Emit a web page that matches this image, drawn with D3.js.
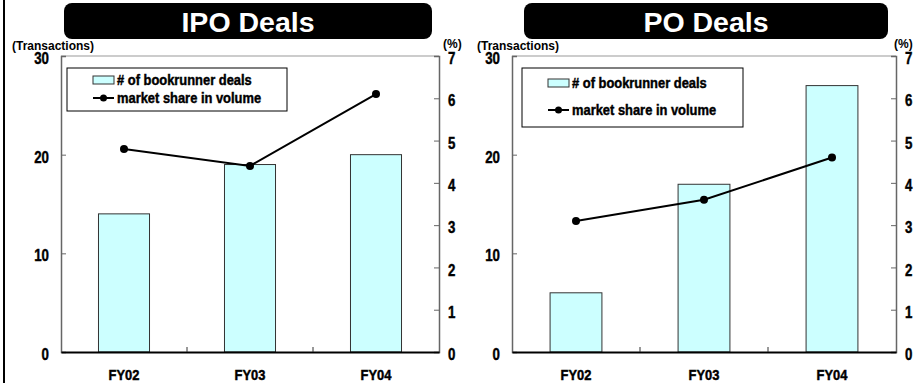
<!DOCTYPE html>
<html>
<head>
<meta charset="utf-8">
<script src="https://cdn.jsdelivr.net/npm/d3@7/dist/d3.min.js"></script>
<style>
  html, body { margin: 0; padding: 0; background: #fff; }
  svg { display: block; }
  .narrow { font-family: 'Liberation Sans', Arial, sans-serif; font-weight: bold; stroke: #000; stroke-width: 0.45px; }
  .sans { font-family: 'Liberation Sans', Arial, sans-serif; font-weight: bold; }
</style>
</head>
<body>
<svg id="chart" width="921" height="383"></svg>
<script>
// Fiscal years shown on the x axis
const categories = ["FY02", "FY03", "FY04"];

// IPO deals: number of bookrunner transactions and market share (%)
const ipoDeals = [14, 19, 20];
const ipoShare = [4.8, 4.4, 6.1];

// PO deals: number of bookrunner transactions and market share (%)
const poDeals = [6, 17, 27];
const poShare = [3.1, 3.6, 4.6];

// Axis ticks
const countTicks = [0, 10, 20, 30];
const shareTicks = [0, 1, 2, 3, 4, 5, 6, 7];

const legendLabels = ["# of bookrunner deals", "market share in volume"];

const svg = d3.select("#chart");

// Squeeze bold glyphs horizontally to get a narrow face
function condense(sel, factor) {
  sel.each(function () {
    const w = this.getComputedTextLength();
    this.setAttribute("textLength", w * factor);
    this.setAttribute("lengthAdjust", "spacingAndGlyphs");
  });
}

// Left frame rule
svg.append("line")
  .attr("x1", 4).attr("x2", 4).attr("y1", 0).attr("y2", 383)
  .attr("stroke", "#000").attr("stroke-width", 2);

const panels = [
  { title: "IPO Deals", deals: ipoDeals, share: ipoShare,
    x0: 61, x1: 439, box: [64, 432], unitX: 12, pctX: 443,
    legend: { x: 67, y: 68, w: 220, h: 43, row1: 80, row2: 98 } },
  { title: "PO Deals", deals: poDeals, share: poShare,
    x0: 512, x1: 896, box: [524, 888], unitX: 477, pctX: 894,
    legend: { x: 522, y: 68, w: 221, h: 59, row1: 83, row2: 110 } }
];

const yTop = 56, yBottom = 352;

panels.forEach(p => {
  const g = svg.append("g");

  // Title banner
  g.append("rect")
    .attr("x", p.box[0]).attr("y", 3)
    .attr("width", p.box[1] - p.box[0]).attr("height", 36)
    .attr("rx", 8).attr("fill", "#000");
  g.append("text")
    .attr("class", "sans")
    .attr("x", (p.box[0] + p.box[1]) / 2).attr("y", 31.5)
    .attr("text-anchor", "middle")
    .attr("font-size", 28.5).attr("fill", "#fff")
    .text(p.title);

  const x = d3.scaleBand().domain(categories).range([p.x0, p.x1])
    .paddingInner(0.595).paddingOuter(0.2975);
  const xb = d3.scaleBand().domain(categories).range([p.x0, p.x1]).padding(0);
  const yCount = d3.scaleLinear().domain([0, 30]).range([yBottom, yTop]);
  const yShare = d3.scaleLinear().domain([0, 7]).range([yBottom, yTop]);

  // Plot area top border
  g.append("line")
    .attr("x1", p.x0).attr("x2", p.x1).attr("y1", yTop).attr("y2", yTop)
    .attr("stroke", "#999").attr("stroke-width", 1);

  // Bars
  g.selectAll("rect.bar").data(p.deals).join("rect")
    .attr("class", "bar")
    .attr("x", (d, i) => x(categories[i]))
    .attr("y", d => yCount(d))
    .attr("width", x.bandwidth())
    .attr("height", d => yBottom - yCount(d))
    .attr("fill", "#ccffff").attr("stroke", "#333").attr("stroke-width", 1);

  // Left axis
  const la = g.append("g").attr("transform", `translate(${p.x0},0)`)
    .call(d3.axisLeft(yCount).tickValues(countTicks).tickSize(-5).tickPadding(12)
      .tickFormat(d3.format("d")));
  la.select(".domain").attr("stroke", "#666").attr("stroke-width", 1.5);
  la.selectAll(".tick line").attr("stroke", "#666");
  la.selectAll("text").attr("class", "narrow").attr("font-size", 17).attr("fill", "#000").attr("dy", "0.45em")
    .call(condense, 0.78);

  // Right axis
  const ra = g.append("g").attr("transform", `translate(${p.x1},0)`)
    .call(d3.axisRight(yShare).tickValues(shareTicks).tickSize(-5).tickPadding(9)
      .tickFormat(d3.format("d")));
  ra.select(".domain").attr("stroke", "#666").attr("stroke-width", 1.5);
  ra.selectAll(".tick line").attr("stroke", "#666");
  ra.selectAll("text").attr("class", "narrow").attr("font-size", 17).attr("fill", "#000").attr("dy", "0.45em")
    .call(condense, 0.78);

  // Bottom axis with category labels
  const ba = g.append("g").attr("transform", `translate(0,${yBottom})`)
    .call(d3.axisBottom(x).tickSize(0).tickPadding(18));
  ba.select(".domain").attr("stroke", "#000").attr("stroke-width", 2);
  ba.selectAll("text").attr("class", "narrow").attr("font-size", 14).attr("fill", "#000")
    .call(condense, 0.92);

  // Category separators on the bottom axis
  g.selectAll("line.sep").data(categories.slice(1)).join("line")
    .attr("class", "sep")
    .attr("x1", d => xb(d)).attr("x2", d => xb(d))
    .attr("y1", yBottom).attr("y2", yBottom - 5)
    .attr("stroke", "#333");

  // Market share line
  const cx = (d, i) => x(categories[i]) + x.bandwidth() / 2;
  g.append("path")
    .datum(p.share)
    .attr("d", d3.line().x(cx).y(d => yShare(d)))
    .attr("fill", "none").attr("stroke", "#000").attr("stroke-width", 2);
  g.selectAll("circle.pt").data(p.share).join("circle")
    .attr("class", "pt")
    .attr("cx", cx).attr("cy", d => yShare(d)).attr("r", 4)
    .attr("fill", "#000");

  // Units
  g.append("text").attr("class", "sans")
    .attr("x", p.unitX).attr("y", 50).attr("font-size", 12)
    .text("(Transactions)");
  g.append("text").attr("class", "sans")
    .attr("x", p.pctX).attr("y", 48).attr("font-size", 12)
    .text("(%)");

  // Legend
  const L = p.legend;
  const lg = g.append("g");
  lg.append("rect").attr("x", L.x).attr("y", L.y).attr("width", L.w).attr("height", L.h)
    .attr("fill", "#fff").attr("stroke", "#000").attr("stroke-width", 1);
  const sx = L.x + 26;
  lg.append("rect").attr("x", sx).attr("y", L.row1 - 4).attr("width", 21).attr("height", 8)
    .attr("fill", "#ccffff").attr("stroke", "#333");
  lg.append("line").attr("x1", sx).attr("x2", sx + 21).attr("y1", L.row2).attr("y2", L.row2)
    .attr("stroke", "#000").attr("stroke-width", 2);
  lg.append("circle").attr("cx", sx + 10.5).attr("cy", L.row2).attr("r", 3.5).attr("fill", "#000");
  [L.row1, L.row2].forEach((ry, i) => {
    lg.append("text").attr("class", "narrow")
      .attr("x", sx + 24).attr("y", ry).attr("dy", "0.36em")
      .attr("font-size", 15).text(legendLabels[i])
      .call(condense, 0.86);
  });
});
</script>
</body>
</html>
